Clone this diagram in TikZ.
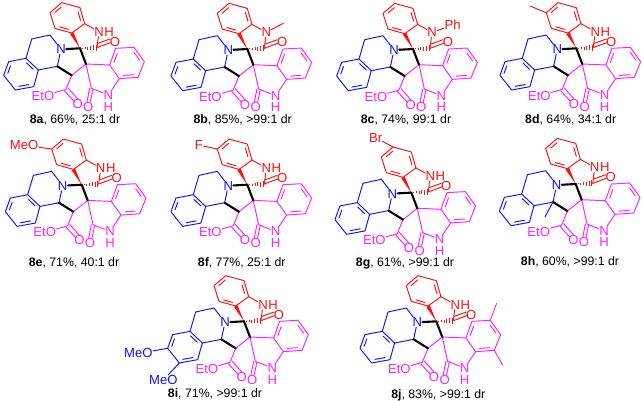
\documentclass[tikz,border=0pt]{standalone}
\usepackage{fontspec}
\setmainfont{Liberation Sans}
\usetikzlibrary{calc}
\definecolor{molred}{HTML}{FF1111}
\definecolor{molblue}{HTML}{1111FF}
\definecolor{molmag}{HTML}{FF22FF}
\tikzset{
  atom/.style={inner sep=0.3pt,font=\fontsize{13.1}{13}\selectfont},
  caption/.style={inner sep=0pt,font=\fontsize{12.3}{13}\selectfont,text=black},
  thin bond/.style={line width=0.95pt,line join=round,line cap=round},
  bold bond/.style={line width=2.1pt,black,line cap=round},
  molscope/.style={x=0.33333pt,y=-0.33333pt}
}
\newcommand{\dbl}[3]{\draw[thin bond] ($($(#1)!.16!(#2)$)!.2!(#3)$) -- ($($(#2)!.16!(#1)$)!.2!(#3)$);}
\newcommand{\molbase}[1]{%
  % blue part
  \coordinate (b1) at (150,105); \coordinate (b2) at (95,117);
  \coordinate (a1) at (78,175); \coordinate (a2) at (115,210); \coordinate (a3) at (101,260);
  \coordinate (a4) at (46,270); \coordinate (a5) at (11,226); \coordinate (a6) at (26,185);
  \coordinate (ac) at (63,222);
  \coordinate (c5) at (172,199);
  \node[atom,text=molblue] (N) at (183,148) {N};
  \begin{scope}[molblue]
    \draw[thin bond] (N) -- (b1) -- (b2) -- (a1) -- (a2) -- (a3) -- (a4) -- (a5) -- (a6) -- (a1);
    \draw[thin bond] (a2) -- (c5) -- (N);
    \dbl{a1}{a2}{ac}\dbl{a3}{a4}{ac}\dbl{a5}{a6}{ac}
  \end{scope}
  % red part
  \coordinate (sp) at (240,145);
  \coordinate (r1) at (185,8); \coordinate (r2) at (240,23); \coordinate (r3) at (254,71);
  \coordinate (r4) at (215,99); \coordinate (r5) at (165,85); \coordinate (r6) at (150,38);
  \coordinate (rc) at (202,54);
  \coordinate (co) at (291,143);
  \node[atom,text=molred] (rn) at (297,95) {N};
  \node[atom,text=molred] (ro) at (345,125) {O};
  \begin{scope}[molred]
    \draw[thin bond] (r1) -- (r2) -- (r3) -- (r4) -- (r5) -- (r6) -- cycle;
    \dbl{r6}{r1}{rc}\dbl{r2}{r3}{rc}\dbl{r4}{r5}{rc}
    \draw[thin bond] (r3) -- (rn) -- (co);
    \fill (sp) -- ($(r4)+(5,-3)$) -- ($(r4)+(-5,3)$) -- cycle;
    \foreach \t/\w in {.14/1.5,.3/3,.46/4.5,.62/6,.78/7.5,.94/9}
      \draw[line width=0.7pt] ($($(sp)!\t!(co)$)+(0,\w)$) -- ($($(sp)!\t!(co)$)+(0,-\w)$);
    \draw[thin bond] (co) -- ($(ro)+(-14,3)$);
    \draw[thin bond] ($(co)+(3,-13)$) -- ($(ro)+(-15,-8)$);
  \end{scope}
  % magenta part
  \coordinate (c3) at (258,192); \coordinate (c4) at (215,226);
  \coordinate (m1) at (329,195); \coordinate (m2) at (347,145); \coordinate (m3) at (402,142);
  \coordinate (m4) at (433,185); \coordinate (m5) at (414,232); \coordinate (m6) at (358,236);
  \coordinate (mc) at (382,190);
  \coordinate (c7) at (274,265); \coordinate (c8) at (198,268);
  \node[atom,text=molmag] (mn) at (325,285) {N};
  \node[atom,text=molmag] (mh) at (325,320) {H};
  \node[atom,text=molmag] (mo) at (265,320) {O};
  \node[atom,text=molmag] (eo) at (233,312) {O};
  \node[atom,text=molmag] (eto) at (129,288) {EtO};
  \begin{scope}[molmag]
    \draw[thin bond] (m1) -- (m2) -- (m3) -- (m4) -- (m5) -- (m6) -- cycle;
    \dbl{m1}{m2}{mc}\dbl{m3}{m4}{mc}\dbl{m5}{m6}{mc}
    \draw[thin bond] (c3) -- (m1);
    \draw[thin bond] (c3) -- (c4) -- (c8) -- (eto);
    \draw[thin bond] (c3) -- (c7) -- (mn) -- (m6);
    \draw[thin bond] ($(c7)+(-5,0)$) -- ($(mo)+(-4,-15)$);
    \draw[thin bond] ($(c7)+(5,2)$) -- ($(mo)+(6,-15)$);
    \draw[thin bond] ($(c8)+(-5,4)$) -- ($(eo)+(-10,-7)$);
    \draw[thin bond] ($(c8)+(6,-4)$) -- ($(eo)+(2,-13)$);
  \end{scope}
  % stereo core
  \draw[bold bond] (N) -- (sp) -- (c3);
  \draw[bold bond] (c4) -- (c5);
  #1
}
\newcommand{\rNH}{\node[atom,text=molred,anchor=west,inner sep=0pt] (rh) at (rn.east) {H};}
\newcommand{\mol}[3]{\begin{scope}[molscope,shift={(#1*3,#2*3)}]\molbase{#3}\end{scope}}
\begin{document}
\begin{tikzpicture}[x=1pt,y=-1pt]
\useasboundingbox[fill=white] (0,0) rectangle (643,401);
% 8a
\mol{0}{0}{\rNH}
\node[caption] (La) at (75,119.5) {\textbf{8a}, 66\%, 25:1 dr};
% 8b
\mol{167.3}{0.7}{\coordinate (me) at (348,68); \draw[thin bond,molred] (rn) -- (me);}
\node[caption] (Lb) at (242.7,120) {\textbf{8b}, 85\%, >99:1 dr};
% 8c
\mol{333}{0.7}{\node[atom,text=molred] (ph) at (359,73) {Ph}; \draw[thin bond,molred] (rn) -- (ph);}
\node[caption] (Lc) at (406,120) {\textbf{8c}, 74\%, 99:1 dr};
% 8d
\mol{496.3}{0}{\rNH\coordinate (me) at (101,18); \draw[thin bond,molred] (r6) -- (me);}
\node[caption] (Ld) at (570.7,120) {\textbf{8d}, 64\%, 34:1 dr};
% 8e
\mol{1.7}{136.4}{\rNH\node[atom,text=molred] (ome) at (67,26) {MeO}; \draw[thin bond,molred] (r6) -- (ome);}
\node[caption] (Le) at (74,262.7) {\textbf{8e}, 71\%, 40:1 dr};
% 8f
\mol{167.3}{136.4}{\rNH\node[atom,text=molred] (fl) at (95,26) {F}; \draw[thin bond,molred] (r6) -- (fl);}
\node[caption] (Lf) at (241.7,262.7) {\textbf{8f}, 77\%, 25:1 dr};
% 8g
\mol{331.3}{144.3}{\rNH\node[atom,text=molred] (br) at (133,-20) {Br}; \draw[thin bond,molred] (r1) -- (br);}
\node[caption] (Lg) at (405,263.6) {\textbf{8g}, 61\%, >99:1 dr};
% 8h
\mol{495.7}{135.7}{\rNH\coordinate (me) at (148,243); \draw[thin bond,molblue] (c5) -- (me);}
\node[caption] (Lh) at (570,262) {\textbf{8h}, 60\%, >99:1 dr};
% 8i
\mol{164}{273}{\rNH
  \node[atom,text=molblue] (o1) at (-77,241) {MeO}; \draw[thin bond,molblue] (a5) -- (o1);
  \node[atom,text=molblue] (o2) at (-2,321) {MeO}; \draw[thin bond,molblue] (a4) -- (o2);}
\node[caption] (Li) at (215,394.3) {\textbf{8i}, 71\%, >99:1 dr};
% 8j
\mol{356.3}{273}{\rNH
  \coordinate (me1) at (421,91); \draw[thin bond,molmag] (m3) -- (me1);
  \coordinate (me2) at (439,276); \draw[thin bond,molmag] (m5) -- (me2);}
\node[caption] (Lj) at (438.3,395) {\textbf{8j}, 83\%, >99:1 dr};
\end{tikzpicture}
\end{document}
